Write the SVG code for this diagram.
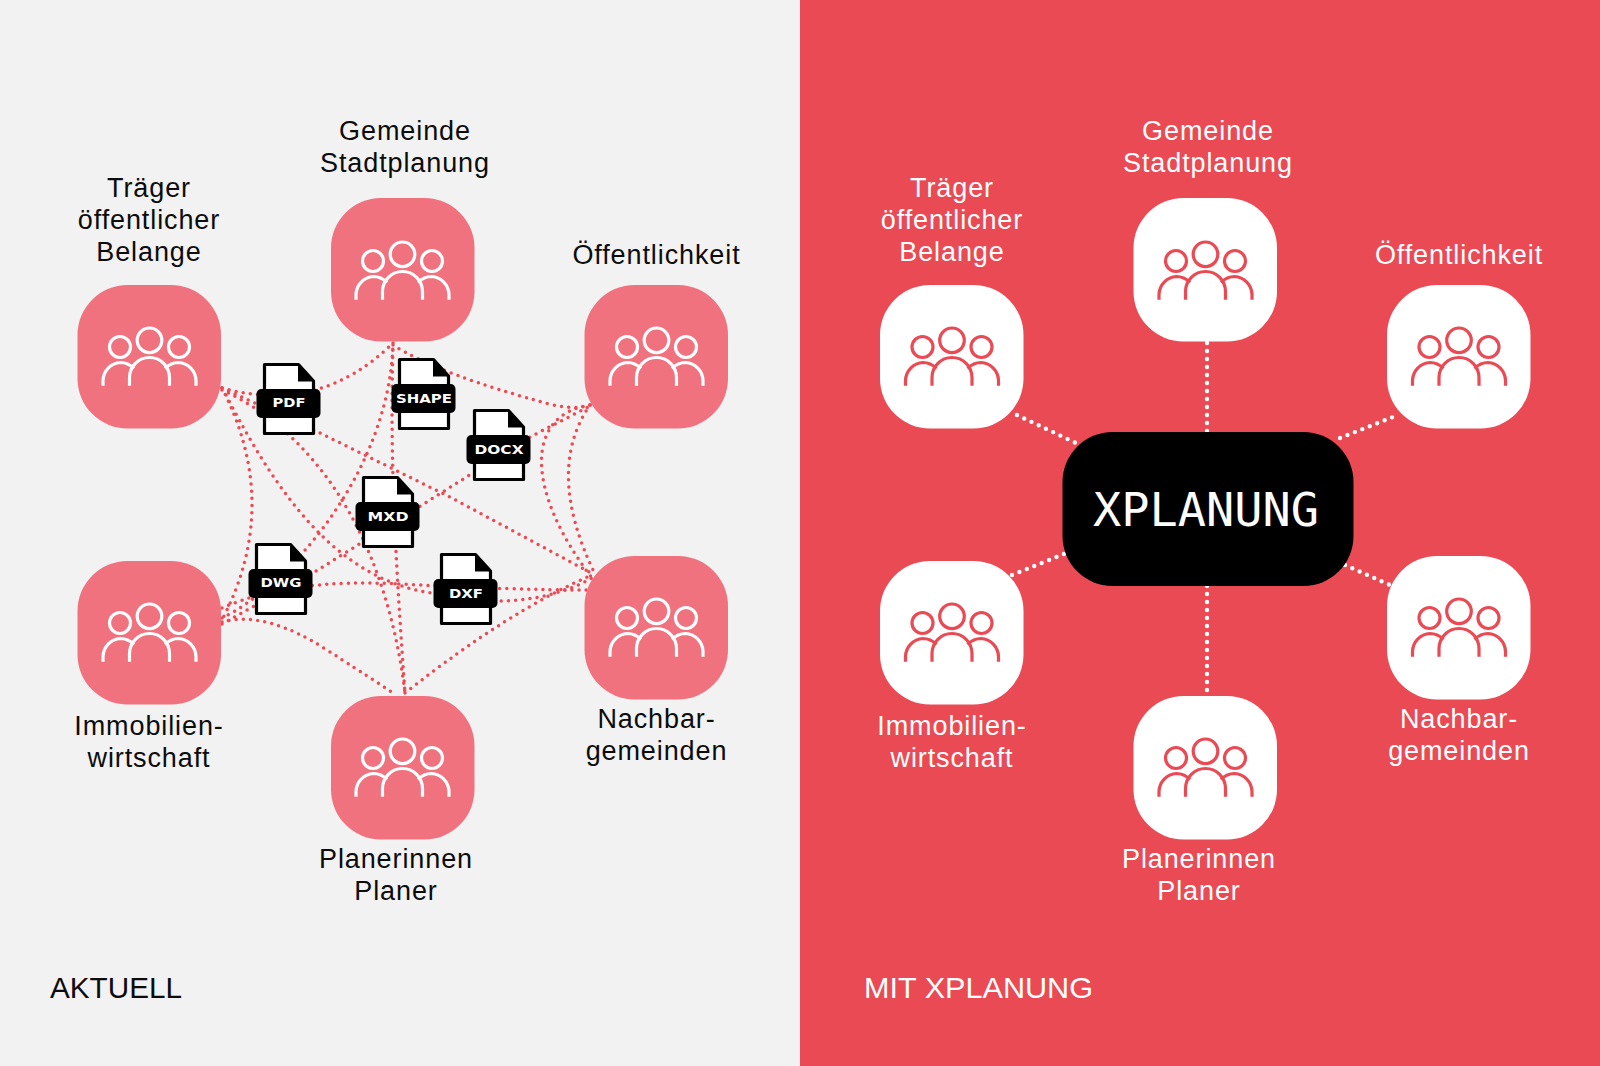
<svg xmlns="http://www.w3.org/2000/svg" width="1600" height="1066" viewBox="0 0 1600 1066">
<style>
.lbl{font-family:"Liberation Sans",Arial,sans-serif;font-size:27px;letter-spacing:.9px;text-anchor:middle}
.dark{fill:#0c0c0c}.light{fill:#fff}
.hd{font-family:"Liberation Sans",Arial,sans-serif;font-size:29.500px}
.pink{fill:#f0727e}.white{fill:#fff}
.ic{fill:none;stroke-width:3.200;stroke-linecap:butt}
.ic-w{stroke:#fff}.ic-r{stroke:#ea4a54}
.web{fill:none;stroke:#ea4a54;stroke-width:3.500;stroke-linecap:round;stroke-dasharray:0 7.200}
.link{fill:none;stroke:#fff;stroke-width:4.400;stroke-linecap:round;stroke-dasharray:0 8}
.ft{font-family:"DejaVu Sans",sans-serif;font-weight:700;font-size:13px;fill:#fff;text-anchor:middle}
</style>
<defs>
<g id="people">
<circle cx="0" cy="-15.700" r="12.300"/>
<circle cx="-29.500" cy="-9" r="10.500"/>
<circle cx="29.500" cy="-9" r="10.500"/>
<path d="M-20,29.700V21.500A20,20 0 0 1 20,21.500V29.700"/>
<path d="M-46.500,29.700V24.500A18.500,18.500 0 0 1 -29,6.500C-24,6.500 -19.500,8.500 -15.500,12.500"/>
<path d="M46.500,29.700V24.500A18.500,18.500 0 0 0 29,6.500C24,6.500 19.500,8.500 15.500,12.500"/>
</g>
<g id="file">
<path d="M1.500,1.500H35.500L50.500,18V70.500H1.500Z" fill="#fff" stroke="#000" stroke-width="3.200" stroke-linejoin="round"/>
<path d="M35,1.500L51,18.500H35Z" fill="#000"/>
<rect x="-6.500" y="26" width="64" height="29" rx="5" fill="#000"/>
</g>
</defs>
<rect x="0" y="0" width="800" height="1066" fill="#f2f2f2"/>
<rect x="800" y="0" width="800" height="1066" fill="#ea4a54"/>
<g id="connectors">
<path class="web" d="M222,388Q320,415 393,343"/>
<path class="web" d="M222,388L318,432L450,497L593,574"/>
<path class="web" d="M222,390C310,430 385,530 405,693"/>
<path class="web" d="M393,343C390,450 394,540 405,693"/>
<path class="web" d="M222,388Q282,505 222,620"/>
<path class="web" d="M226,395C280,500 340,580 432,593C480,606 545,605 592,578"/>
<path class="web" d="M222,608Q290,578 400,584T592,590"/>
<path class="web" d="M405,693Q510,610 592,575"/>
<path class="web" d="M222,622Q265,610 327,650T393,693"/>
<path class="web" d="M222,618C290,585 390,470 393,343"/>
<path class="web" d="M222,624L313,573L422,505L530,437L592,405"/>
<path class="web" d="M393,345Q440,375 553,405Q575,410 590,405"/>
<path class="web" d="M590,405Q545,470 594,572"/>
<path class="web" d="M590,405C525,415 525,490 592,578"/>
<path class="link" d="M1207,343V432"/>
<path class="link" d="M1207,586V694"/>
<path class="link" d="M1017,415L1076,443"/>
<path class="link" d="M1340,438L1398,415"/>
<path class="link" d="M1012,575L1064,554"/>
<path class="link" d="M1345,565L1390,585"/>
</g>
<g id="l-traeger"><rect class="pink" x="77.500" y="285" width="143.500" height="143.500" rx="50"/><use href="#people" x="149.500" y="356" class="ic ic-w"/><text class="lbl dark" x="149" y="197">Träger</text><text class="lbl dark" x="149" y="229">öffentlicher</text><text class="lbl dark" x="149" y="261">Belange</text></g>
<g id="l-gemeinde"><rect class="pink" x="331" y="198" width="143.500" height="143.500" rx="50"/><use href="#people" x="402.500" y="270" class="ic ic-w"/><text class="lbl dark" x="405" y="140">Gemeinde</text><text class="lbl dark" x="405" y="172">Stadtplanung</text></g>
<g id="l-oeffentlichkeit"><rect class="pink" x="584.500" y="285" width="143.500" height="143.500" rx="50"/><use href="#people" x="656.500" y="356" class="ic ic-w"/><text class="lbl dark" x="656.500" y="264">Öffentlichkeit</text></g>
<g id="l-immobilien"><rect class="pink" x="77.500" y="561" width="143.500" height="143.500" rx="50"/><use href="#people" x="149.500" y="632" class="ic ic-w"/><text class="lbl dark" x="149" y="735">Immobilien-</text><text class="lbl dark" x="149" y="767">wirtschaft</text></g>
<g id="l-nachbar"><rect class="pink" x="584.500" y="556" width="143.500" height="143.500" rx="50"/><use href="#people" x="656.500" y="627" class="ic ic-w"/><text class="lbl dark" x="656.500" y="728">Nachbar-</text><text class="lbl dark" x="656.500" y="760">gemeinden</text></g>
<g id="l-planer"><rect class="pink" x="331" y="696" width="143.500" height="143.500" rx="50"/><use href="#people" x="402.500" y="767" class="ic ic-w"/><text class="lbl dark" x="396" y="868">Planerinnen</text><text class="lbl dark" x="396" y="900">Planer</text></g>
<g id="f-pdf"><use href="#file" x="263" y="363"/><text class="ft" x="289" y="407" textLength="33" lengthAdjust="spacingAndGlyphs">PDF</text></g>
<g id="f-shape"><use href="#file" x="398" y="358"/><text class="ft" x="424" y="403" textLength="56" lengthAdjust="spacingAndGlyphs">SHAPE</text></g>
<g id="f-docx"><use href="#file" x="473" y="409"/><text class="ft" x="499" y="454" textLength="49" lengthAdjust="spacingAndGlyphs">DOCX</text></g>
<g id="f-mxd"><use href="#file" x="362" y="476"/><text class="ft" x="388" y="521" textLength="41" lengthAdjust="spacingAndGlyphs">MXD</text></g>
<g id="f-dwg"><use href="#file" x="255" y="543"/><text class="ft" x="281" y="587" textLength="41" lengthAdjust="spacingAndGlyphs">DWG</text></g>
<g id="f-dxf"><use href="#file" x="440" y="553"/><text class="ft" x="466" y="598" textLength="34" lengthAdjust="spacingAndGlyphs">DXF</text></g>
<g id="r-traeger"><rect class="white" x="880" y="285" width="143.500" height="143.500" rx="50"/><use href="#people" x="952" y="356" class="ic ic-r"/><text class="lbl light" x="952" y="197">Träger</text><text class="lbl light" x="952" y="229">öffentlicher</text><text class="lbl light" x="952" y="261">Belange</text></g>
<g id="r-gemeinde"><rect class="white" x="1133.500" y="198" width="143.500" height="143.500" rx="50"/><use href="#people" x="1205.500" y="270" class="ic ic-r"/><text class="lbl light" x="1208" y="140">Gemeinde</text><text class="lbl light" x="1208" y="172">Stadtplanung</text></g>
<g id="r-oeffentlichkeit"><rect class="white" x="1387" y="285" width="143.500" height="143.500" rx="50"/><use href="#people" x="1459" y="356" class="ic ic-r"/><text class="lbl light" x="1459" y="264">Öffentlichkeit</text></g>
<g id="r-immobilien"><rect class="white" x="880" y="561" width="143.500" height="143.500" rx="50"/><use href="#people" x="952" y="632" class="ic ic-r"/><text class="lbl light" x="952" y="735">Immobilien-</text><text class="lbl light" x="952" y="767">wirtschaft</text></g>
<g id="r-nachbar"><rect class="white" x="1387" y="556" width="143.500" height="143.500" rx="50"/><use href="#people" x="1459" y="627" class="ic ic-r"/><text class="lbl light" x="1459" y="728">Nachbar-</text><text class="lbl light" x="1459" y="760">gemeinden</text></g>
<g id="r-planer"><rect class="white" x="1133.500" y="696" width="143.500" height="143.500" rx="50"/><use href="#people" x="1205.500" y="767" class="ic ic-r"/><text class="lbl light" x="1199" y="868">Planerinnen</text><text class="lbl light" x="1199" y="900">Planer</text></g>
<g id="xplanung"><rect x="1062.500" y="432" width="291" height="154" rx="50" fill="#000"/><text x="1206" y="526" font-family="'DejaVu Sans Mono',monospace" font-size="47" fill="#fff" text-anchor="middle" textLength="226" lengthAdjust="spacingAndGlyphs">XPLANUNG</text></g>
<text class="hd" x="50" y="998" fill="#0c0c0c" textLength="132" lengthAdjust="spacingAndGlyphs">AKTUELL</text>
<text class="hd" x="864" y="998" fill="#fff" textLength="229" lengthAdjust="spacingAndGlyphs">MIT XPLANUNG</text>
</svg>
